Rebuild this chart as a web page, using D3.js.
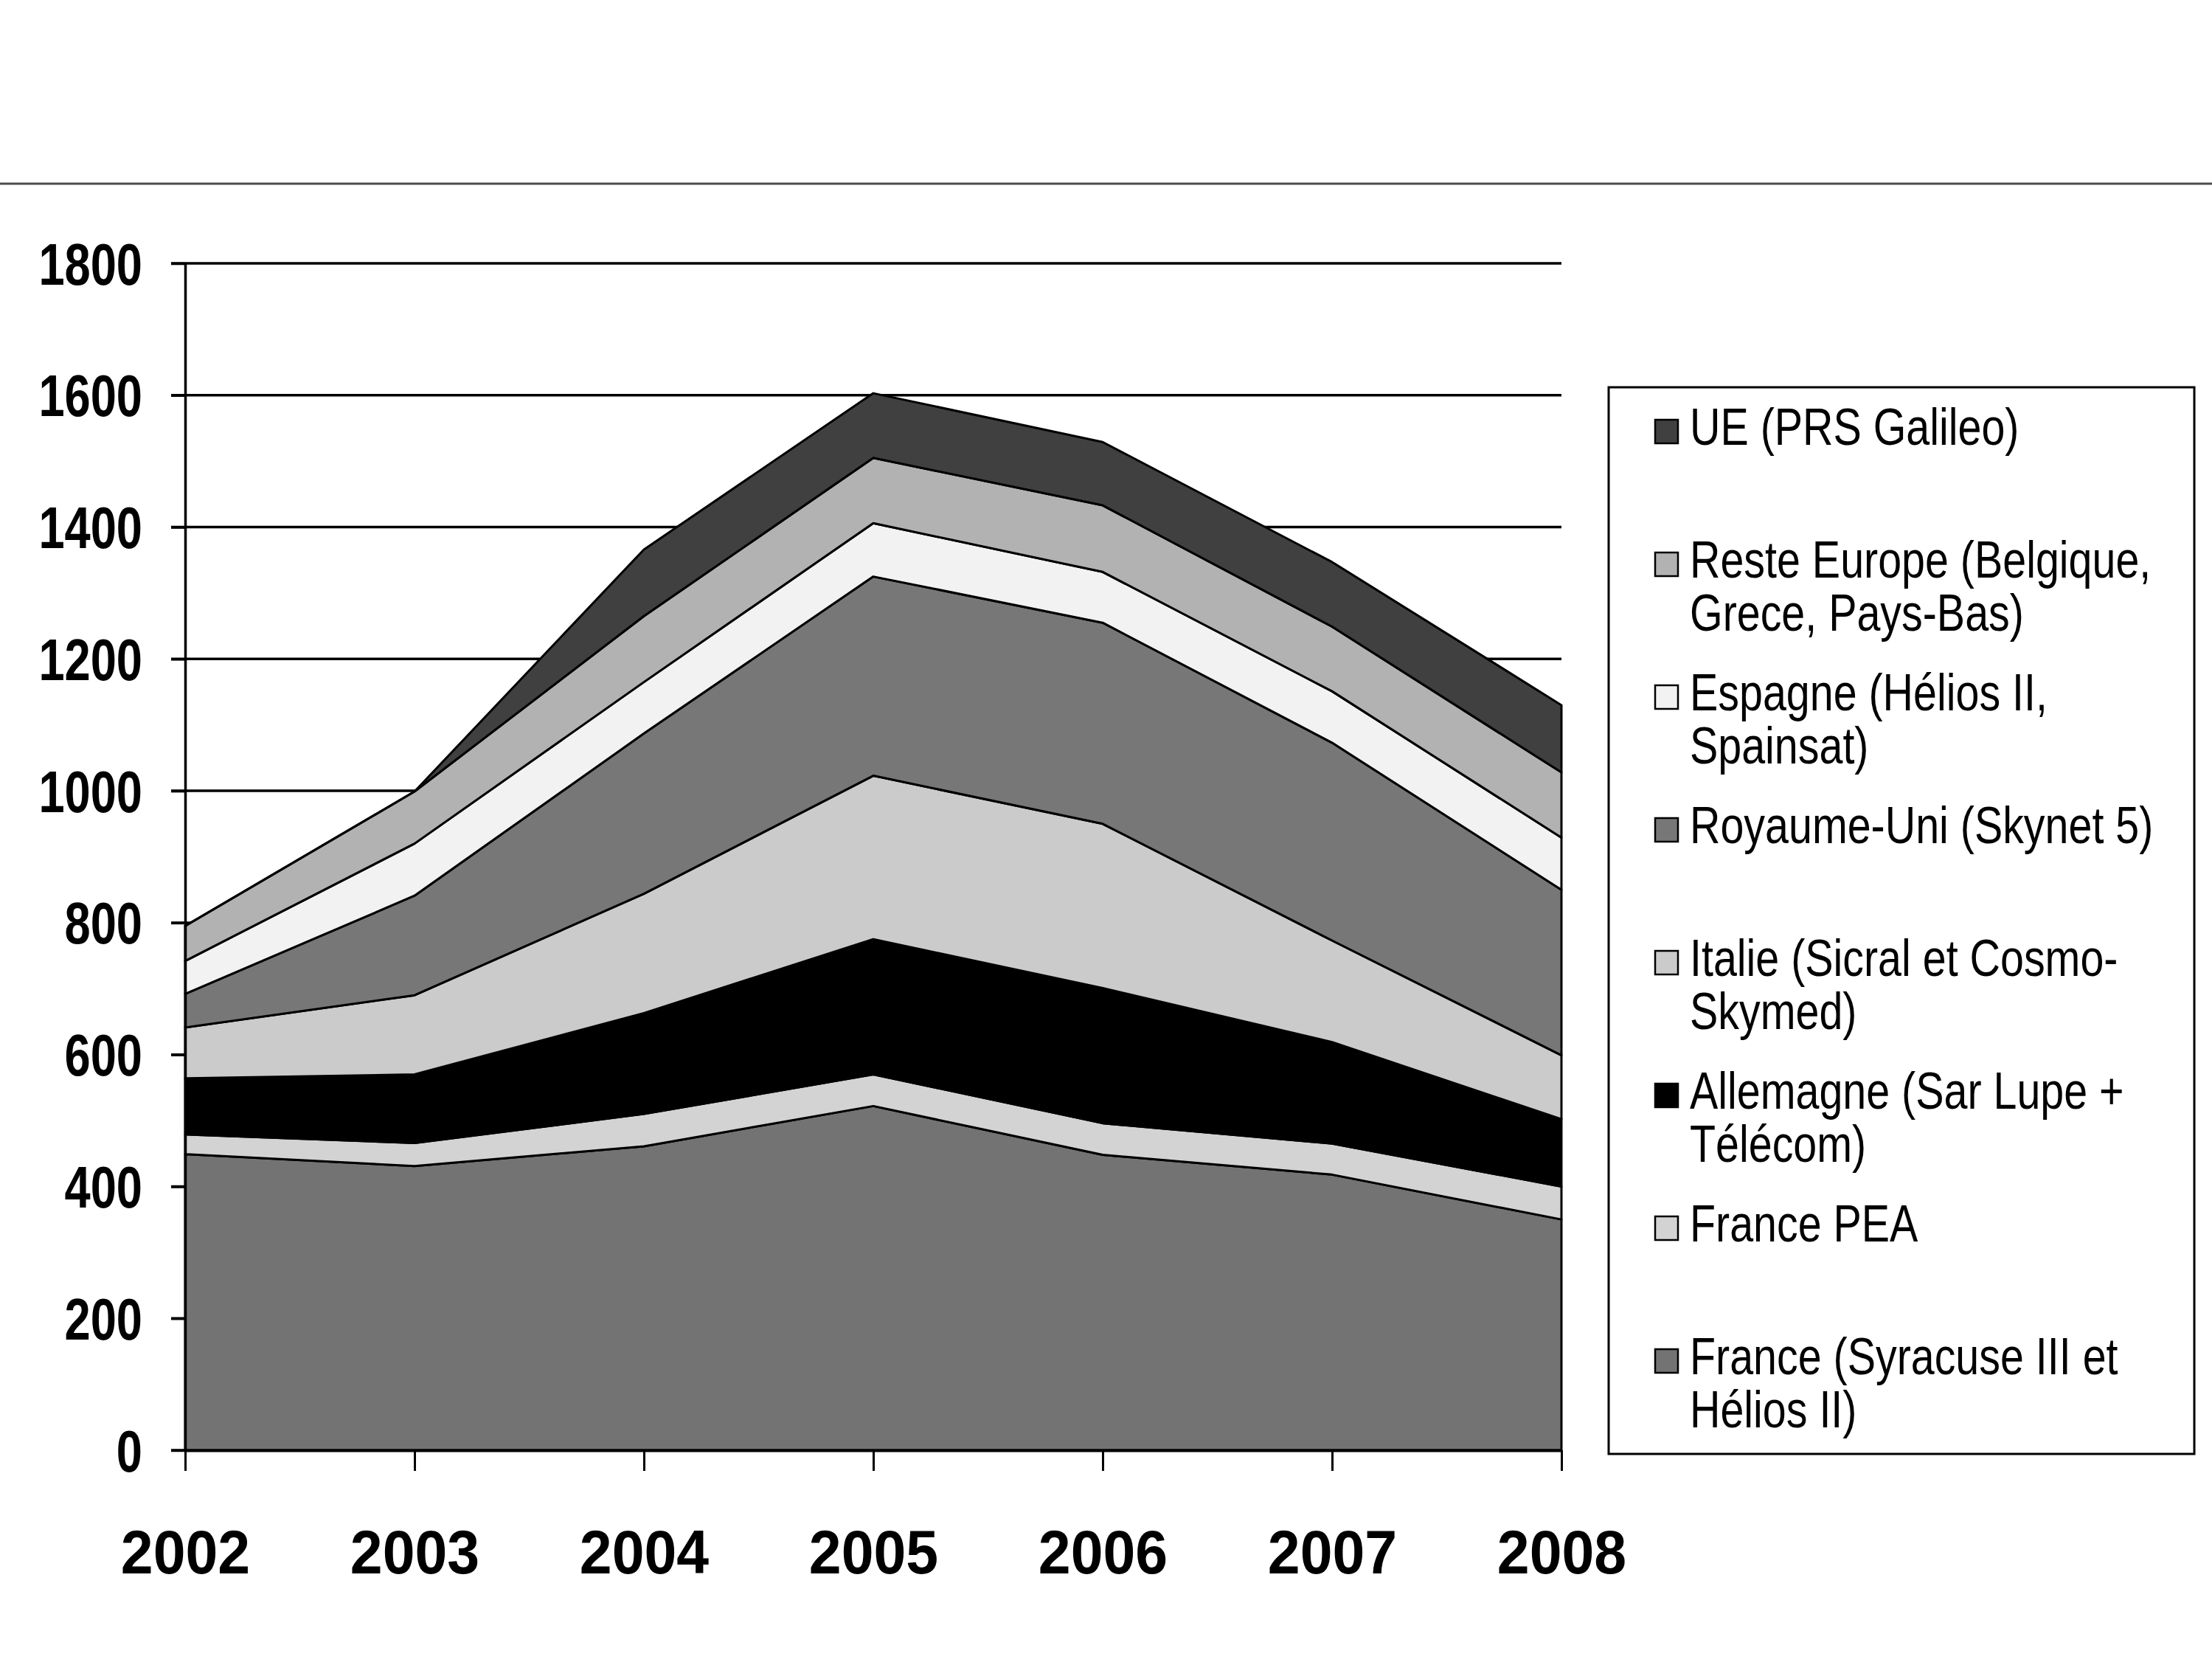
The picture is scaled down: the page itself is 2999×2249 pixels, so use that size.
<!DOCTYPE html>
<html>
<head>
<meta charset="utf-8">
<script src="https://cdn.jsdelivr.net/npm/d3@7"></script>
<style>
  body { margin: 0; background: #fff; }
  text { font-family: "Liberation Sans", Arial, sans-serif; }
</style>
</head>
<body>
<div id="chart"></div>
<script>
// data
var years = [2002, 2003, 2004, 2005, 2006, 2007, 2008];
var yTicks = [0, 200, 400, 600, 800, 1000, 1200, 1400, 1600, 1800];

var france     = [449, 431, 461, 522, 448, 418, 350];
var francePEA  = [30, 35, 49, 48, 48, 47, 50];
var allemagne  = [85, 104, 153, 205, 205, 154, 102];
var italie     = [77, 120, 181, 248, 249, 154, 97];
var royaumeUni = [51, 151, 243, 302, 305, 300, 251];
var espagne    = [50, 79, 78, 81, 77, 78, 79];
var resteEur   = [53, 79, 100, 99, 101, 98, 99];
var ue         = [0, 0, 101, 98, 96, 98, 102];

// series from bottom to top
var seriesKeys = ["france", "pea", "allemagne", "italie", "ru", "espagne", "reste", "ue"];
var seriesVals = [france, francePEA, allemagne, italie, royaumeUni, espagne, resteEur, ue];
var seriesColors = ["#737373", "#d3d3d3", "#000000", "#cbcbcb", "#777777", "#f2f2f2", "#b2b2b2", "#404040"];
var legendLabels = [
  ["France (Syracuse III et", "Hélios II)"],
  ["France PEA"],
  ["Allemagne (Sar Lupe +", "Télécom)"],
  ["Italie (Sicral et Cosmo-", "Skymed)"],
  ["Royaume-Uni (Skynet 5)"],
  ["Espagne (Hélios II,", "Spainsat)"],
  ["Reste Europe (Belgique,", "Grece, Pays-Bas)"],
  ["UE (PRS Galileo)"]
];

//svg size
var svgWidth = 2999;
var svgHeight = 2249;

//plot area
var plotLeft = 251, plotRight = 2117, plotTop = 357, plotBottom = 1966;

var svg = d3.select("#chart")
  .append("svg")
  .attr("width", svgWidth)
  .attr("height", svgHeight);

svg.append("rect").attr("width", svgWidth).attr("height", svgHeight).attr("fill", "#fff");

//top rule
svg.append("line")
  .attr("x1", 0).attr("x2", svgWidth)
  .attr("y1", 249).attr("y2", 249)
  .attr("stroke", "#4d4d4d").attr("stroke-width", 3);

var x = d3.scaleLinear().domain([2002, 2008]).range([plotLeft, plotRight]);
var y = d3.scaleLinear().domain([0, 1800]).range([plotBottom, plotTop]);

// rows for the stack
var table = years.map(function(yr, i) {
  var row = { year: yr };
  seriesKeys.forEach(function(k, j) { row[k] = seriesVals[j][i]; });
  return row;
});
var stacked = d3.stack().keys(seriesKeys)(table);

//gridlines behind the areas
svg.append("g").selectAll("line")
  .data(yTicks)
  .enter()
  .append("line")
  .attr("x1", plotLeft - 19).attr("x2", plotRight)
  .attr("y1", d => y(d)).attr("y2", d => y(d))
  .attr("stroke", "#000").attr("stroke-width", 3.5);

var area = d3.area()
  .x(d => x(d.data.year))
  .y0(d => y(d[0]))
  .y1(d => y(d[1]));

svg.append("g").selectAll("path")
  .data(stacked)
  .enter()
  .append("path")
  .attr("d", area)
  .attr("fill", (d, i) => seriesColors[i])
  .attr("stroke", "#000")
  .attr("stroke-width", 3)
  .attr("stroke-linejoin", "round");

//y axis
var yAxis = svg.append("g")
  .attr("transform", `translate(${plotLeft},0)`)
  .call(d3.axisLeft(y).tickValues(yTicks).tickFormat(d3.format("d")).tickSizeInner(19).tickSizeOuter(0));
yAxis.select(".domain").attr("stroke", "#000").attr("stroke-width", 3.5);
yAxis.selectAll(".tick line").attr("stroke", "#000").attr("stroke-width", 3.5);
yAxis.selectAll(".tick text")
  .attr("x", null).attr("dy", null)
  .attr("transform", "translate(-58,28) scale(0.8,1)")
  .attr("text-anchor", "end")
  .attr("fill", "#000")
  .style("font-size", "79px")
  .style("font-weight", "bold")
  .style("font-family", "'Liberation Sans', Arial, sans-serif");

//x axis
var xAxis = svg.append("g")
  .attr("transform", `translate(0,${plotBottom})`)
  .call(d3.axisBottom(x).tickValues(years).tickFormat(d3.format("d")).tickSizeInner(28).tickSizeOuter(0));
xAxis.select(".domain").attr("stroke", "#000").attr("stroke-width", 4);
xAxis.selectAll(".tick line").attr("stroke", "#000").attr("stroke-width", 3);
xAxis.selectAll(".tick text")
  .attr("y", null).attr("dy", null)
  .attr("transform", "translate(0,167) scale(0.95,1)")
  .attr("text-anchor", "middle")
  .attr("fill", "#000")
  .style("font-size", "83px")
  .style("font-weight", "bold")
  .style("font-family", "'Liberation Sans', Arial, sans-serif");

//legend
var legend = svg.append("g");
legend.append("rect")
  .attr("x", 2181).attr("y", 525)
  .attr("width", 2975 - 2181).attr("height", 1971 - 525)
  .attr("fill", "#fff").attr("stroke", "#000").attr("stroke-width", 3);

var order = d3.range(seriesKeys.length).reverse();
var items = legend.selectAll("g.item")
  .data(order)
  .enter()
  .append("g")
  .attr("class", "item")
  .attr("transform", (d, i) => `translate(2244,${603 + i * 180})`);

items.append("rect")
  .attr("x", 0).attr("y", -34)
  .attr("width", 31).attr("height", 32)
  .attr("fill", d => seriesColors[d])
  .attr("stroke", "#000").attr("stroke-width", 2.5);

items.append("text")
  .attr("transform", "translate(47,0) scale(0.82,1)")
  .style("font-size", "70px")
  .attr("fill", "#000")
  .selectAll("tspan")
  .data(d => legendLabels[d])
  .enter()
  .append("tspan")
  .attr("x", 0)
  .attr("y", (d, i) => i * 72)
  .text(d => d);
</script>
</body>
</html>
